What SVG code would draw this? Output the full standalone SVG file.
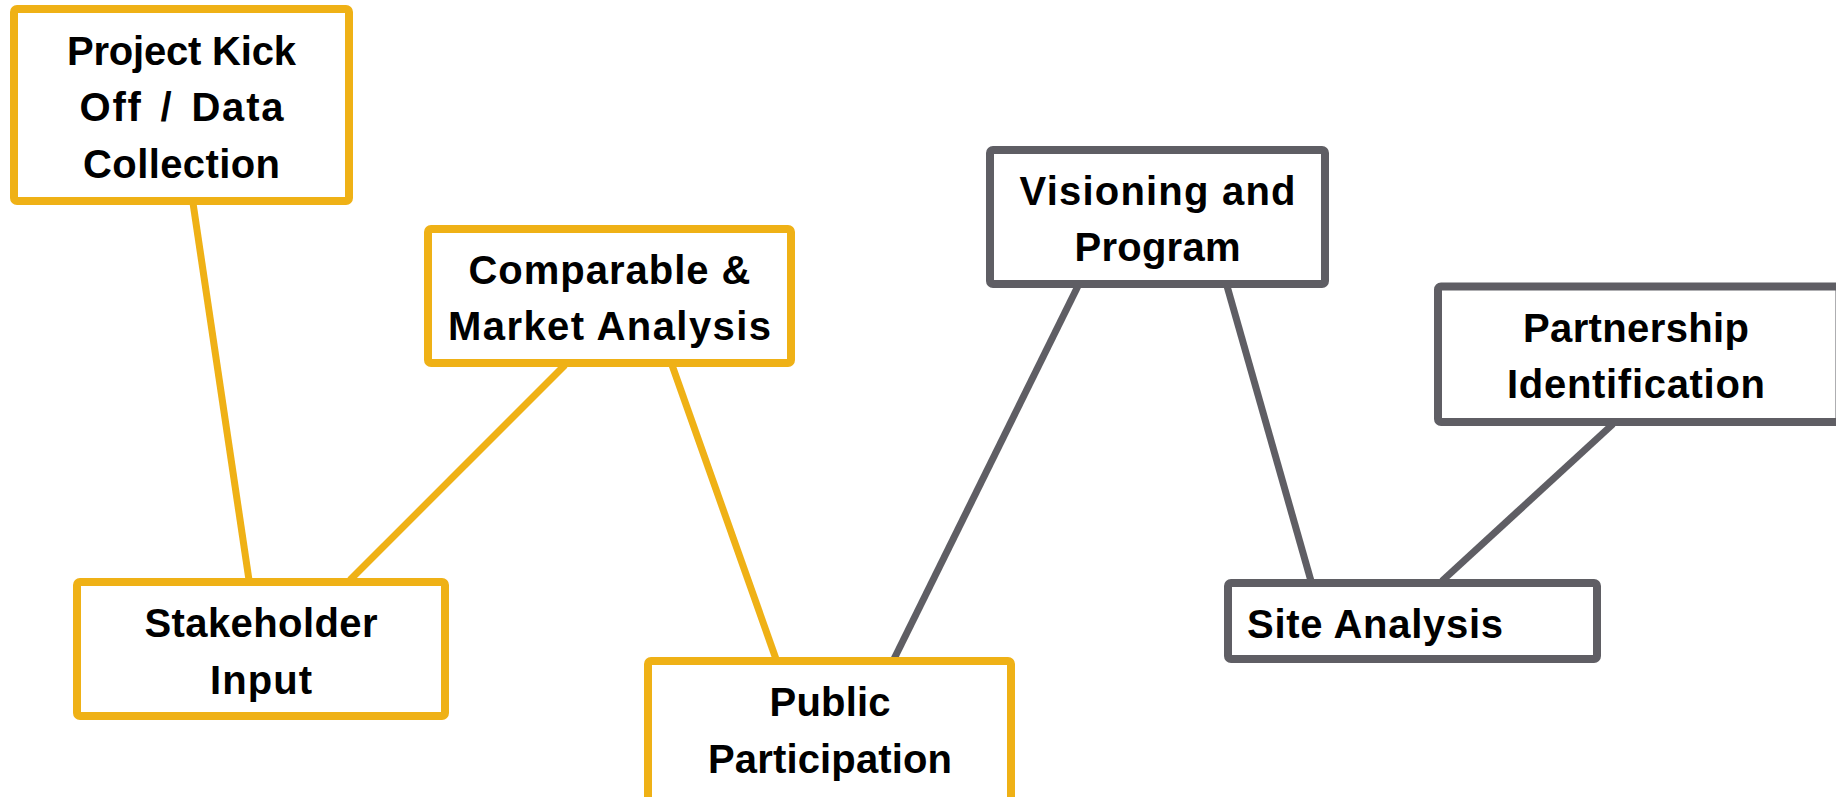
<svg xmlns="http://www.w3.org/2000/svg" width="1836" height="797" viewBox="0 0 1836 797">
<style>
.box{fill:#fff;stroke-width:8;stroke-linejoin:round}
.gold{stroke:#EFB116}
.gray{stroke:#5F5E64}
.ln{stroke-width:7;fill:none;stroke-linecap:butt}
text{font-family:"Liberation Sans",Arial,sans-serif;font-weight:bold;font-size:40px;fill:#000;text-anchor:middle}
</style>
<rect width="1836" height="797" fill="#fff"/>
<g id="connectors">
<line class="ln gold" x1="193" y1="203" x2="249" y2="580"/>
<line class="ln gold" x1="565" y1="365" x2="350" y2="580"/>
<line class="ln gold" x1="672" y1="365" x2="776" y2="659"/>
<line class="ln gray" x1="1078" y1="286" x2="894" y2="659"/>
<line class="ln gray" x1="1227" y1="286" x2="1311" y2="581"/>
<line class="ln gray" x1="1613" y1="424" x2="1442" y2="581"/>
</g>
<g id="kickoff">
<rect class="box gold" x="14" y="9" width="335" height="192" rx="3"/>
<text x="181.5" y="65" textLength="229" lengthAdjust="spacing">Project Kick</text>
<text x="181.5" y="121" word-spacing="5" textLength="204" lengthAdjust="spacing">Off / Data</text>
<text x="181.5" y="178" textLength="197" lengthAdjust="spacing">Collection</text>
</g>
<g id="comparable">
<rect class="box gold" x="428" y="229" width="363" height="134" rx="3"/>
<text x="609.5" y="284" textLength="282" lengthAdjust="spacing">Comparable &amp;</text>
<text x="609.5" y="340" textLength="323" lengthAdjust="spacing">Market Analysis</text>
</g>
<g id="visioning">
<rect class="box gray" x="990" y="150" width="335" height="134" rx="3"/>
<text x="1157.5" y="205" textLength="276" lengthAdjust="spacing">Visioning and</text>
<text x="1157.5" y="261" textLength="166" lengthAdjust="spacing">Program</text>
</g>
<g id="partnership">
<rect class="box gray" x="1438" y="286.5" width="401.5" height="135.5" rx="3"/>
<text x="1636" y="342" textLength="226" lengthAdjust="spacing">Partnership</text>
<text x="1636" y="398" textLength="258" lengthAdjust="spacing">Identification</text>
</g>
<g id="stakeholder">
<rect class="box gold" x="77" y="582" width="368" height="134" rx="3"/>
<text x="261" y="637" textLength="233" lengthAdjust="spacing">Stakeholder</text>
<text x="261" y="694" textLength="102" lengthAdjust="spacing">Input</text>
</g>
<g id="public">
<rect class="box gold" x="648" y="661" width="363" height="150" rx="3"/>
<text x="830" y="716" textLength="121" lengthAdjust="spacing">Public</text>
<text x="830" y="773" textLength="244" lengthAdjust="spacing">Participation</text>
</g>
<g id="site">
<rect class="box gray" x="1228" y="583" width="369" height="76" rx="3"/>
<text x="1247" y="638" style="text-anchor:start" textLength="256" lengthAdjust="spacing">Site Analysis</text>
</g>
</svg>
